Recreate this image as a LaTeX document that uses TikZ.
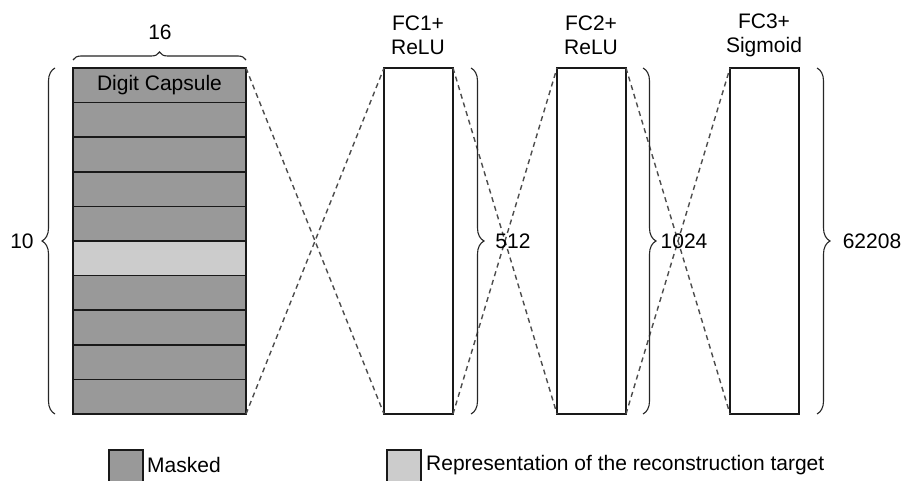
\documentclass[tikz,border=0pt]{standalone}
\usepackage{fontspec}
\setmainfont{Liberation Sans}
\usetikzlibrary{decorations.pathreplacing}
\begin{document}
\begin{tikzpicture}[x=1pt,y=-1pt,
  font=\fontsize{21}{24}\selectfont,
  row/.style={draw=black!90,line width=1.6pt,fill=black!40,minimum width=173pt,minimum height=34.6pt,inner sep=0pt,outer sep=0pt,anchor=north west},
  lightrow/.style={row,fill=black!20},
  fcbox/.style={draw=black!90,line width=1.5pt,fill=white,minimum width=69pt,minimum height=346pt,inner sep=0pt,outer sep=0pt,anchor=north west},
  dashline/.style={draw=black!70,line width=1.4pt,dash pattern=on 5pt off 4pt},
  bracel/.style={draw=black!85,line width=1.1pt,decorate,decoration={brace,amplitude=#1}},
  lbl/.style={inner sep=0pt,align=center},
  legbox/.style={draw=black!90,line width=1.5pt,minimum width=34pt,minimum height=36pt,inner sep=0pt,anchor=north west}
]
\clip (0,0) rectangle (904,481);
\fill[white] (0,0) rectangle (904,481);
% digit capsule rows
\node[row] (r1) at (73,68) {Digit Capsule};
\node[row] (r2) at (73,102.6) {};
\node[row] (r3) at (73,137.2) {};
\node[row] (r4) at (73,171.8) {};
\node[row] (r5) at (73,206.4) {};
\node[lightrow] (r6) at (73,241.0) {};
\node[row] (r7) at (73,275.6) {};
\node[row] (r8) at (73,310.2) {};
\node[row] (r9) at (73,344.8) {};
\node[row] (r10) at (73,379.4) {};
% FC boxes
\node[fcbox] (fc1) at (384,68) {};
\node[fcbox] (fc2) at (557,68) {};
\node[fcbox] (fc3) at (730,68) {};
% labels
\node[lbl] (l16) at (160,32) {16};
\node[lbl] (lfc1) at (418,35) {FC1+\\ReLU};
\node[lbl] (lfc2) at (591,35) {FC2+\\ReLU};
\node[lbl] (lfc3) at (764,35) {FC3+\\Sigmoid};
% dashed crossings
\draw[dashline] (r1.north east) -- (fc1.south west);
\draw[dashline] (r10.south east) -- (fc1.north west);
\draw[dashline] (fc1.north east) -- (fc2.south west);
\draw[dashline] (fc1.south east) -- (fc2.north west);
\draw[dashline] (fc2.north east) -- (fc3.south west);
\draw[dashline] (fc2.south east) -- (fc3.north west);
% braces
\coordinate (b16a) at (73,60);
\coordinate (b16b) at (246,60);
\draw[bracel=8pt] (b16a) -- (b16b);
\coordinate (b10a) at (55,414);
\coordinate (b10b) at (55,68);
\draw[bracel=13pt] (b10a) -- (b10b);
\node[lbl] (l10) at (22,241) {10};
\coordinate (b1a) at (471,68);
\coordinate (b1b) at (471,414);
\draw[bracel=13pt] (b1a) -- (b1b);
\node[lbl] (l512) at (513,241) {512};
\coordinate (b2a) at (643,68);
\coordinate (b2b) at (643,414);
\draw[bracel=13pt] (b2a) -- (b2b);
\node[lbl] (l1024) at (684,241) {1024};
\coordinate (b3a) at (817,68);
\coordinate (b3b) at (817,414);
\draw[bracel=13pt] (b3a) -- (b3b);
\node[lbl] (l62208) at (872,241) {62208};
% legend
\node[legbox,fill=black!40] (lg1) at (108,449) {};
\node[lbl,anchor=west] (lt1) at (147,465) {Masked};
\node[legbox,fill=black!20] (lg2) at (386,449) {};
\node[lbl,anchor=west] (lt2) at (426,465) {Representation of the reconstruction target};
\end{tikzpicture}
\end{document}
